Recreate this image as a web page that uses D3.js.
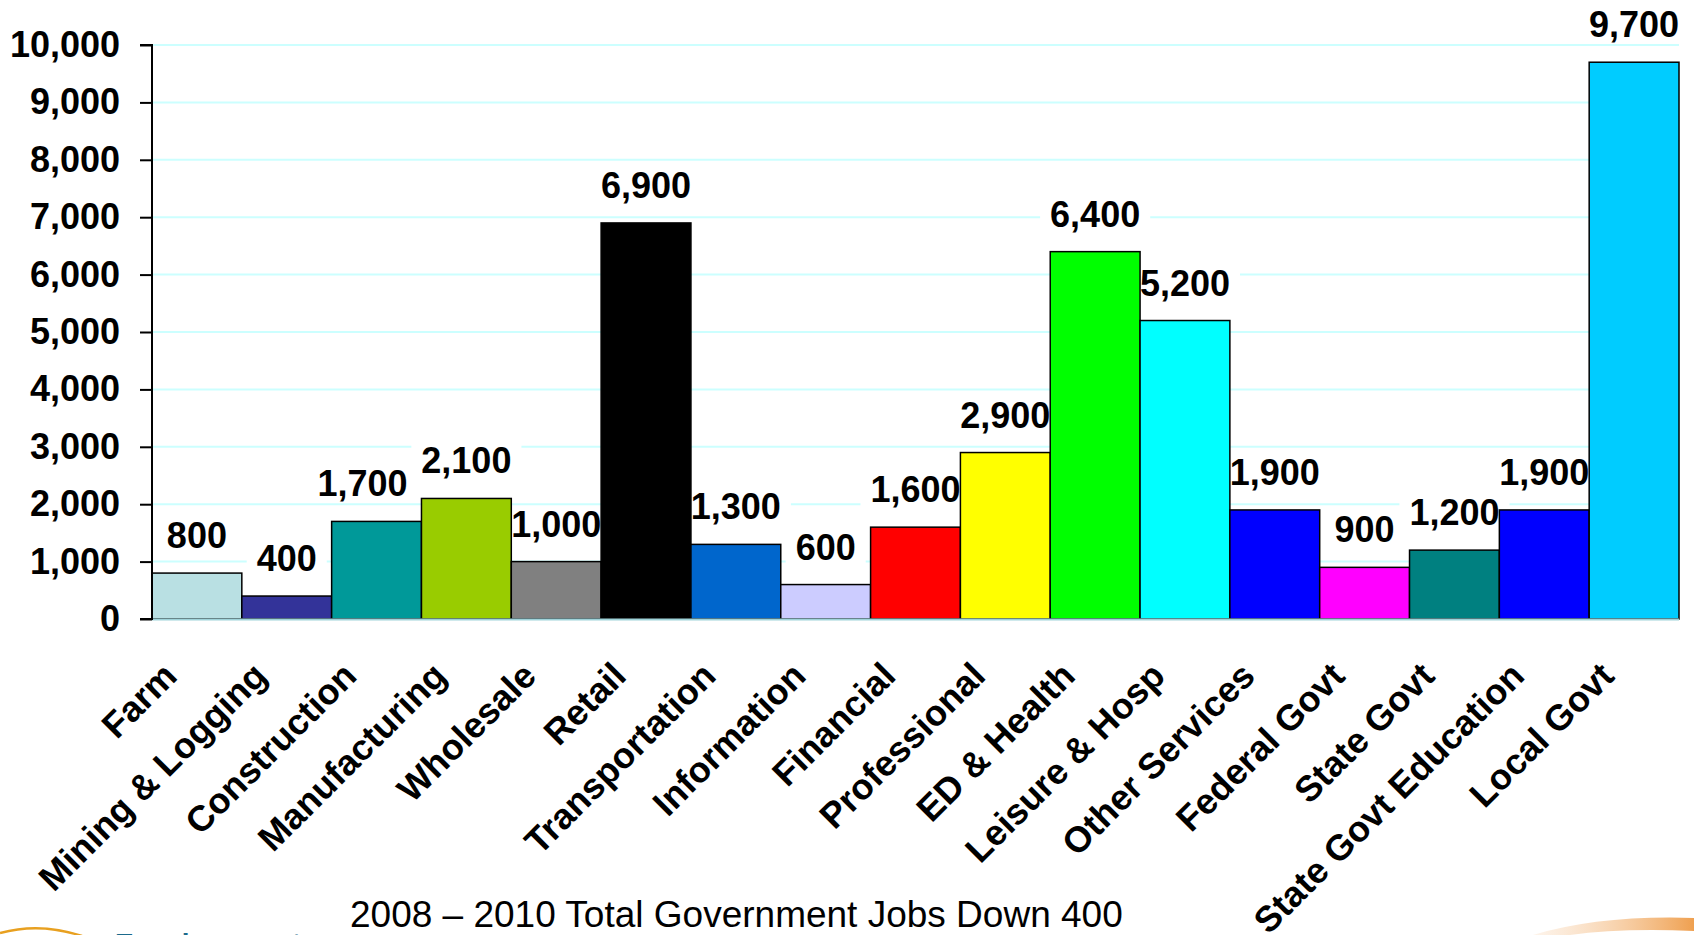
<!DOCTYPE html>
<html>
<head>
<meta charset="utf-8">
<script src="https://cdn.jsdelivr.net/npm/d3@7"></script>
<style>
html,body{margin:0;padding:0;background:#fff;}
svg{display:block;font-family:"Liberation Sans",Arial,sans-serif;}
</style>
</head>
<body>
<svg id="chart" width="1694" height="935"></svg>
<script>
const categories = ["Farm","Mining & Logging","Construction","Manufacturing","Wholesale","Retail","Transportation","Information","Financial","Professional","ED & Health","Leisure & Hosp","Other Services","Federal Govt","State Govt","State Govt Education","Local Govt"];
const values = [800,400,1700,2100,1000,6900,1300,600,1600,2900,6400,5200,1900,900,1200,1900,9700];
const colors = ["#b9e0e3","#333399","#009999","#99cc00","#808080","#000000","#0066cc","#ccccff","#ff0000","#ffff00","#00ff00","#00ffff","#0000ff","#ff00ff","#008080","#0000ff","#00ccff"];
const yTicks = [0,1000,2000,3000,4000,5000,6000,7000,8000,9000,10000];
const footnote = "2008 \u2013 2010 Total Government Jobs Down 400";
const logoText = "Employment";

(function () {
const svg = d3.select("#chart");
const pL = 152, pR = 1679, pT = 45, pB = 619;

const x = d3.scaleBand().domain(categories).range([pL, pR]).paddingInner(0).paddingOuter(0);
const y = d3.scaleLinear().domain([0, 10000]).range([pB, pT]);

// label nudge (layout only): Excel shifted this label left to avoid the neighbouring bar
const labelShift = cat => (cat === "Construction" ? -14 : 0);

// gridlines
svg.append("g").selectAll("line").data(yTicks.filter(d => d > 0)).join("line")
  .attr("x1", pL).attr("x2", pR)
  .attr("y1", d => y(d)).attr("y2", d => y(d))
  .attr("stroke", "#ccffff").attr("stroke-width", 2);

// value labels (with white background), drawn under bars
const lab = svg.append("g");
const labels = lab.selectAll("g").data(values).join("g");
labels.append("rect").attr("fill", "#fff");
labels.append("text")
  .attr("x", (d, i) => x(categories[i]) + x.bandwidth() / 2 + labelShift(categories[i]))
  .attr("y", d => y(d) - 25)
  .attr("text-anchor", "middle")
  .attr("font-size", 36).attr("font-weight", "bold").attr("fill", "#000")
  .text(d => d3.format(",")(d));
labels.each(function() {
  const t = d3.select(this).select("text");
  const bb = t.node().getBBox();
  const base = +t.attr("y");
  d3.select(this).select("rect")
    .attr("x", bb.x - 10).attr("width", bb.width + 20)
    .attr("y", base - 29).attr("height", 33);
});

// bars
svg.append("g").selectAll("rect").data(values).join("rect")
  .attr("x", (d, i) => x(categories[i]))
  .attr("width", x.bandwidth())
  .attr("y", d => y(d))
  .attr("height", d => y(0) - y(d))
  .attr("fill", (d, i) => colors[i])
  .attr("stroke", "#000").attr("stroke-width", 1.5);

// x axis baseline
svg.append("line").attr("x1", pL).attr("x2", pR).attr("y1", pB + 0.5).attr("y2", pB + 0.5)
  .attr("stroke", "#9fd3d9").attr("stroke-width", 2);

// y axis
const yAxis = d3.axisLeft(y).tickValues(yTicks).tickFormat(d3.format(",")).tickSize(12).tickPadding(20);
const ga = svg.append("g").attr("transform", `translate(${pL},0)`).call(yAxis);
ga.select(".domain").attr("stroke", "#000").attr("stroke-width", 2).attr("d", `M-12,${y(10000)}H0V${y(0)}H-12`);
ga.selectAll(".tick line").attr("stroke", "#000").attr("stroke-width", 2);
ga.selectAll(".tick text").attr("font-size", 36).attr("font-weight", "bold").attr("fill", "#000")
  .attr("font-family", "Liberation Sans, Arial, sans-serif");

// category labels
svg.append("g").selectAll("text").data(categories).join("text")
  .attr("transform", d => `translate(${x(d) + x.bandwidth() / 2 - 18},678) rotate(-45)`)
  .attr("text-anchor", "end")
  .attr("font-size", 36).attr("font-weight", "bold").attr("fill", "#000")
  .text(d => d);

// footnote
svg.append("text").attr("x", 350).attr("y", 927)
  .attr("font-size", 37).attr("fill", "#000").text(footnote);

// logo fragments
svg.append("path").attr("d", "M0,933 Q40,922 82,936")
  .attr("fill", "none").attr("stroke", "#e8a020").attr("stroke-width", 2.5);
svg.append("text").attr("x", 115).attr("y", 953)
  .attr("font-size", 28).attr("font-weight", "bold").attr("letter-spacing", 2)
  .attr("fill", "#1b6a8c").text(logoText);

const defs = svg.append("defs");
const grad = defs.append("linearGradient").attr("id", "sw").attr("x1", "0").attr("x2", "1").attr("y1", "0").attr("y2", "0");
grad.append("stop").attr("offset", "0").attr("stop-color", "#fbe3cc").attr("stop-opacity", 0.4);
grad.append("stop").attr("offset", "1").attr("stop-color", "#efa050");
svg.append("path").attr("d", "M1533,935 Q1600,915 1694,918 L1694,931 Q1620,928 1570,935 Z")
  .attr("fill", "url(#sw)");
})();
</script>
</body>
</html>
